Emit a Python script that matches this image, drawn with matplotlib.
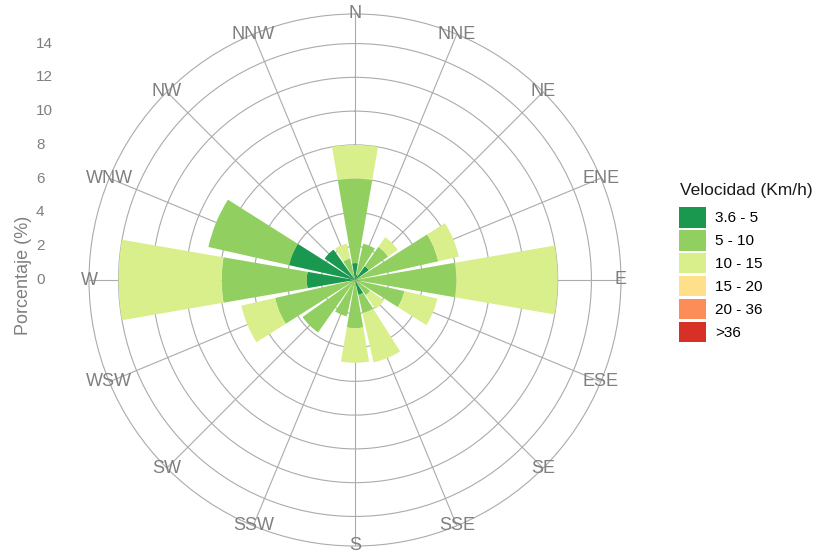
import matplotlib
matplotlib.use('Agg')
import matplotlib.pyplot as plt
import matplotlib.transforms as mtransforms
import numpy as np

plt.rcParams['font.family'] = ['Liberation Sans', 'DejaVu Sans']

# direcciones del viento (sentido horario desde el norte)
direcciones = ['N', 'NNE', 'NE', 'ENE', 'E', 'ESE', 'SE', 'SSE',
               'S', 'SSW', 'SW', 'WSW', 'W', 'WNW', 'NW', 'NNW']
angulos = [0, 22.5, 45, 67.5, 90, 112.5, 135, 157.5,
           180, 202.5, 225, 247.5, 270, 292.5, 315, 337.5]

rangos = ['3.6 - 5', '5 - 10', '10 - 15', '15 - 20', '20 - 36', '>36']
colores = ['#1a9850', '#91cf60', '#d9ef8b', '#fee08b', '#fc8d59', '#d73027']

# porcentaje por direccion y rango de velocidad
v_3_5 = [1.0, 0.3, 1.0, 0.0, 0.2, 0.0, 0.0, 0.9,
         0.0, 0.0, 0.0, 0.0, 2.85, 4.0, 2.2, 0.0]
v_5_10 = [5.0, 1.9, 1.4, 5.05, 5.8, 3.0, 1.1, 1.1,
          2.85, 2.2, 3.8, 4.85, 5.05, 4.9, 0.0, 1.3]
v_10_15 = [2.0, 0.0, 0.7, 1.25, 6.0, 2.0, 1.0, 3.0,
           2.05, 0.0, 0.0, 2.05, 6.1, 0.0, 0.0, 0.9]
v_15_20 = [0, 0, 0, 0, 0, 0, 0, 0, 0, 0, 0, 0, 0, 0, 0, 0]
v_20_36 = [0, 0, 0, 0, 0, 0, 0, 0, 0, 0, 0, 0, 0, 0, 0, 0]
v_36 = [0, 0, 0, 0, 0, 0, 0, 0, 0, 0, 0, 0, 0, 0, 0, 0]

series = [v_3_5, v_5_10, v_10_15, v_15_20, v_20_36, v_36]

r_ticks = [0, 2, 4, 6, 8, 10, 12, 14]
r_max = 15.75
gris = '#7f7f7f'

fig = plt.figure(figsize=(8.21, 5.56), dpi=100)
rect = [89 / 821, 10 / 556, 532 / 821, 532 / 556]
ax = fig.add_axes(rect, projection='polar')
ax.set_theta_zero_location('N')
ax.set_theta_direction(-1)
ax.set_axisbelow(True)

theta = np.deg2rad(angulos)
base = np.zeros(len(direcciones))
barras = []
for vals, col, lab in zip(series, colores, rangos):
    b = ax.bar(theta, vals, width=np.deg2rad(19.6), bottom=base,
               color=col, linewidth=0, label=lab)
    barras.append(b)
    base = base + np.array(vals)

ax.set_ylim(0, r_max)
ax.set_yticks(r_ticks)
ax.set_yticklabels([])
ax.set_xticks(theta)
ax.set_xticklabels([])
ax.grid(True, color='#ababab', linewidth=0.8)
ax.spines['polar'].set_color('#ababab')
ax.spines['polar'].set_linewidth(0.8)

for t, d in zip(theta, direcciones):
    ax.text(t, r_max, d, ha='center', va='center', fontsize=13,
            color=gris, clip_on=False)

# etiquetas del eje radial a la izquierda
ax_r = fig.add_axes(rect, frameon=False)
ax_r.set_xlim(-r_max, r_max)
ax_r.set_ylim(-r_max, r_max)
ax_r.axis('off')
tr = mtransforms.blended_transform_factory(fig.transFigure, ax_r.transData)
for r in r_ticks:
    ax_r.text(36 / 821, r, str(r), transform=tr, ha='left', va='center',
              fontsize=11, color=gris)

fig.text(23 / 821, 1 - 275 / 556, 'Porcentaje (%)', rotation=90,
         ha='center', va='center', fontsize=13, color=gris)

# leyenda
fig.text(680 / 821, 1 - 191 / 556, 'Velocidad (Km/h)', ha='left',
         va='center', fontsize=12.5, color='#1a1a1a')
fig.legend(barras, rangos, loc='upper left',
           bbox_to_anchor=(679 / 821, 1 - 207 / 556), frameon=False,
           borderpad=0, borderaxespad=0, fontsize=11, handlelength=1.76,
           handleheight=1.7, labelspacing=0.15, handletextpad=0.6)

fig.savefig('out.png', dpi=100)
